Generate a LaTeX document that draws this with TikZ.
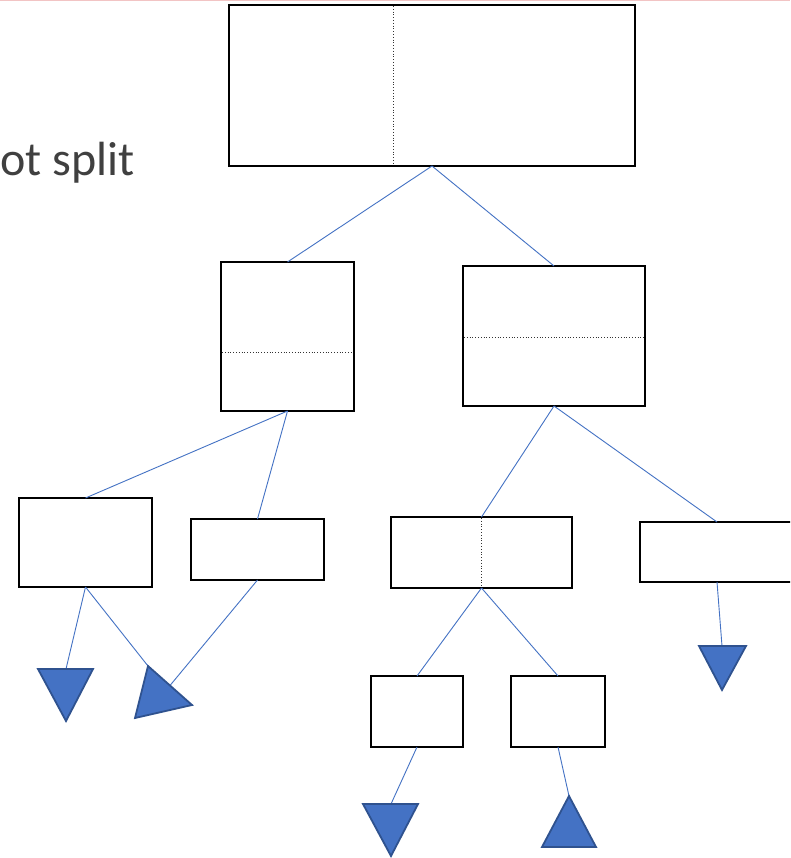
\documentclass[tikz,border=0pt]{standalone}
\usepackage{fontspec}
\newfontfamily\calib{Carlito}
\definecolor{lineblue}{HTML}{4472C4}
\definecolor{triedge}{HTML}{2F528F}
\definecolor{txtgray}{HTML}{404040}
\definecolor{topline}{HTML}{F2C4C4}
\begin{document}
\begin{tikzpicture}[x=1pt,y=-1pt,
  box/.style={draw=black,line width=2.2pt,fill=white,inner sep=0pt,outer sep=0pt},
  link/.style={draw=lineblue,line width=0.9pt},
  split/.style={draw=black!80,line width=0.8pt,dotted},
  tri/.style={fill=lineblue,draw=triedge,line width=1.8pt,line join=miter}]
\useasboundingbox (0,0) rectangle (790,858);
\clip (0,0) rectangle (790,858);
\fill[white] (0,0) rectangle (790,858);
\draw[topline,line width=1.5pt] (0,0.5) -- (790,0.5);
\node[anchor=base west,inner sep=0pt,text=txtgray,font=\calib\fontsize{48}{58}\selectfont] (lbl) at (0.5,176) {ot split};
% boxes
\node[box,minimum width=406pt,minimum height=161pt] (top) at (432,85.5) {};
\node[box,minimum width=133pt,minimum height=149pt] (ml) at (287.5,336.5) {};
\node[box,minimum width=182pt,minimum height=140pt] (mr) at (554,336) {};
\node[box,minimum width=133pt,minimum height=89pt] (ll) at (85.5,542.5) {};
\node[box,minimum width=133pt,minimum height=61pt] (lr) at (257.5,549.5) {};
\node[box,minimum width=181pt,minimum height=71pt] (cm) at (481.5,552.5) {};
\node[box,minimum width=154pt,minimum height=60pt] (fr) at (717,552) {};
\node[box,minimum width=92pt,minimum height=71pt] (b1) at (417,711.5) {};
\node[box,minimum width=94pt,minimum height=71pt] (b2) at (558,711.5) {};
% split lines
\draw[split] (393,6) -- (393,165);
\draw[split] (222,352) -- (353,352);
\draw[split] (464,337) -- (644,337);
\draw[split] (481,518) -- (481,587);
% triangles
\coordinate (t1a) at (38,669); \coordinate (t1b) at (93,669); \coordinate (t1c) at (66,721);
\coordinate (t1in) at (66,669);
\coordinate (t2a) at (148,666); \coordinate (t2b) at (192,705); \coordinate (t2c) at (135,718);
\coordinate (t2in) at (170,685.5);
\coordinate (t3a) at (699,646); \coordinate (t3b) at (746,646); \coordinate (t3c) at (722,690);
\coordinate (t3in) at (722,646);
\coordinate (t4a) at (363,804); \coordinate (t4b) at (418,804); \coordinate (t4c) at (391,856);
\coordinate (t4in) at (391,804);
\coordinate (t5a) at (569,796); \coordinate (t5b) at (596,847); \coordinate (t5c) at (542,847);
% connectors
\draw[link] (top.south) -- (ml.north);
\draw[link] (top.south) -- (mr.north);
\draw[link] (ml.south) -- (ll.north);
\draw[link] (ml.south) -- (lr.north);
\draw[link] (mr.south) -- (cm.north);
\draw[link] (mr.south) -- (fr.north);
\draw[link] (cm.south) -- (b1.north);
\draw[link] (cm.south) -- (b2.north);
\draw[link] (ll.south) -- (t1in);
\draw[link] (ll.south) -- (t2a);
\draw[link] (lr.south) -- (t2in);
\draw[link] (fr.south) -- (t3in);
\draw[link] (b1.south) -- (t4in);
\draw[link] (b2.south) -- (t5a);
\draw[tri] (t1a) -- (t1b) -- (t1c) -- cycle;
\draw[tri] (t2a) -- (t2b) -- (t2c) -- cycle;
\draw[tri] (t3a) -- (t3b) -- (t3c) -- cycle;
\draw[tri] (t4a) -- (t4b) -- (t4c) -- cycle;
\draw[tri] (t5a) -- (t5b) -- (t5c) -- cycle;
\end{tikzpicture}
\end{document}
